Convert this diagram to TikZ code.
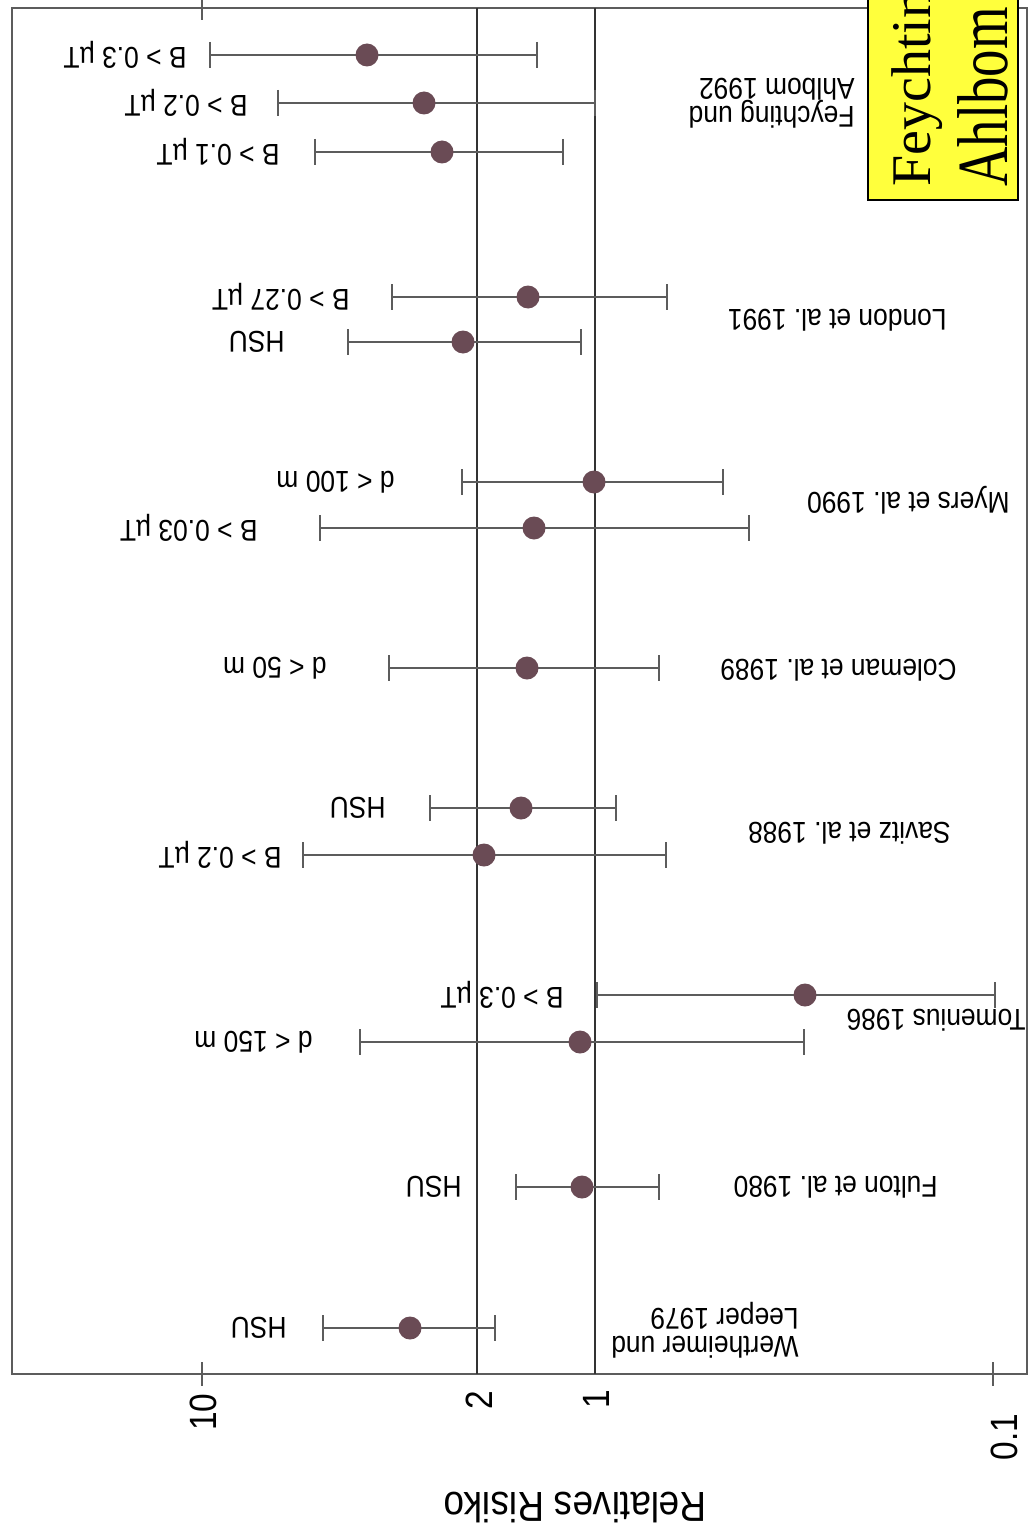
\documentclass[tikz,border=0pt]{standalone}
\usepackage{fontspec}
\setsansfont[FakeStretch=0.88]{Liberation Sans}
\newfontfamily\boxfont{Liberation Serif}
\newfontfamily\boxfontnarrow[FakeStretch=0.76]{Liberation Serif}
\definecolor{dotcol}{HTML}{6A4B55}
\definecolor{linecol}{HTML}{5C5C5C}
\definecolor{boxyellow}{HTML}{FFFF3C}
\frenchspacing

\begin{document}
\begin{tikzpicture}[x=0.5pt, y=-0.5pt,
    bar/.style={linecol, line width=0.9pt},
    sub/.style={font=\sffamily\fontsize{15}{14}\selectfont, rotate=180, anchor=west, inner sep=0pt},
    study/.style={sub, align=left},
    ticklab/.style={font=\sffamily\fontsize{19}{19}\selectfont, rotate=90, inner sep=0pt}]
    \useasboundingbox (0, 0) rectangle (1032, 1530);
    \clip (0, 0) rectangle (1032, 1530);
    \draw[linecol, line width=1pt](12, 8) rectangle (1027, 1374);
    \draw[black!80, line width=0.8pt](477, 8) -- (477, 1374) (595, 8) -- (595, 1374);
    \draw[linecol, line width=1pt](202, 0) -- (202, 20) (202, 1362) -- (202, 1386) (993, 1362) -- (993, 1386);
    \node[ticklab] at (203, 1412) {10};
    \node[ticklab] at (479, 1400) {2};
    \node[ticklab] at (596, 1399) {1};
    \node[ticklab] at (1004, 1437) {0.1};
    \node[rotate=180, font=\sffamily\fontsize{21}{21}\selectfont] at (575, 1507) {Relatives Risiko};
    \foreach \y/\l/\r/\m/\t/\txt in {55/210/537/367/187/B > 0.3 µT, 103/278/595/424/248/B > 0.2 µT,
        152/315/563/442/280/B > 0.1 µT, 297/392/667/528/350/B > 0.27 µT, 342/348/581/463/285/HSU,
        482/462/723/594/395/d < 100 m, 528/320/749/534/258/B > 0.03 µT, 668/389/659/527/327/d < 50 m,
        808/430/616/521/386/HSU, 855/303/666/484/282/B > 0.2 µT, 995/597/995/805/564/B > 0.3 µT,
        1042/360/804/580/313/d < 150 m, 1187/516/659/582/462/HSU, 1328/323/495/410/287/HSU}{
        \draw[bar](\l, \y) -- (\r, \y) (\l, \y-13) -- (\l, \y+13) (\r, \y-13) -- (\r, \y+13);
        \fill[dotcol](\m, \y)circle(11.5);
        \node[sub] at (\t, \y) {\txt};
    }
    \node[study] at (855, 103) {Feychting und\\Ahlbom 1992};
    \node[study] at (947, 320) {London et al. 1991};
    \node[study] at (1010, 500) {Myers et al. 1990};
    \node[study] at (957, 670) {Coleman et al. 1989};
    \node[study] at (951, 833) {Savitz et al. 1988};
    \node[study] at (1026, 1020) {Tomenius 1986};
    \node[study] at (938, 1187) {Fulton et al. 1980};
    \node[study] at (799, 1330) {Wertheimer und\\Leeper 1979};
    \draw[fill=boxyellow, line width=1pt](868, -20) rectangle (1018, 200);
    \node[rotate=90, anchor=base west, inner sep=0pt, font=\boxfont\fontsize{28}{28}\selectfont] at (930, 187) {Feychting};
    \node[rotate=90, anchor=base west, inner sep=0pt, font=\boxfontnarrow\fontsize{36}{36}\selectfont] at (1007, 187) {Ahlbom};
\end{tikzpicture}
\end{document}
